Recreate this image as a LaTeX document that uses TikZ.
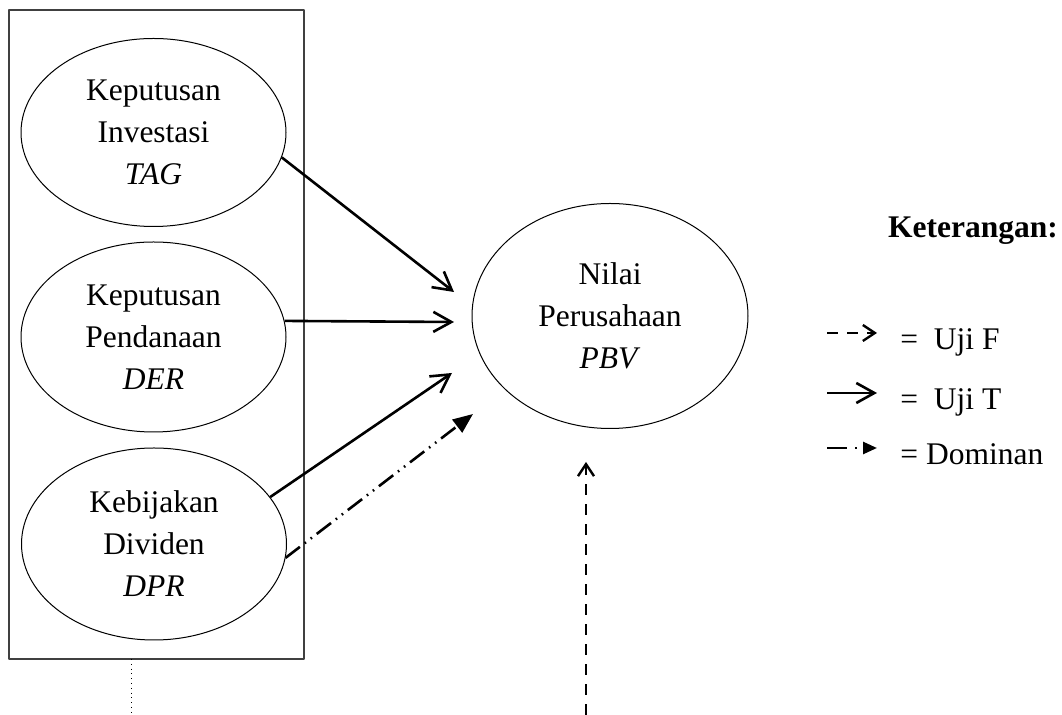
\documentclass[tikz,border=0pt]{standalone}
\usepackage{fontspec}
\setmainfont{Liberation Serif}
\usetikzlibrary{arrows.meta,shapes.geometric}
\begin{document}
\begin{tikzpicture}[x=0.5pt,y=-0.5pt,line join=round,font=\fontsize{15.75}{21}\selectfont,
	var/.style={draw,ellipse,line width=0.5pt,minimum width=132.5pt,minimum height=94pt,inner sep=0pt,align=center},
	uji/.style={line width=1.3pt,-{Straight Barb[length=9pt,width=10pt]}},
	ujif/.style={line width=1.2pt,dash pattern=on 5.5pt off 4.5pt,-{Straight Barb[length=6pt,width=8pt]}},
	dom/.style={line width=1.3pt,dash pattern=on 9pt off 3pt on 0.8pt off 3pt on 0.8pt off 3pt,-{Triangle[length=10pt,width=8pt]}},
	domk/.style={dom,dash pattern=on 10pt off 4pt on 1pt off 3pt,-{Triangle[length=7pt,width=6pt]}}]
				\useasboundingbox (0,0) rectangle (1062,715);
				\draw[draw=black!75,line width=0.7pt] (9,10) rectangle (304,659);
				\node[var] (tag) at (153.5,132.5) {Keputusan\\Investasi\\\textit{TAG}};
				\node[var,minimum height=95pt] (der) at (153.5,337) {Keputusan\\Pendanaan\\\textit{DER}};
				\node[var,minimum height=96pt] (dpr) at (154,544) {Kebijakan\\Dividen\\\textit{DPR}};
				\node[var,minimum width=138pt,minimum height=112.5pt] (pbv) at (610,316) {Nilai\\Perusahaan\\\textit{PBV}};
				\foreach \n/\x/\y in {1/454/292,2/454/322,3/452/373,4/473/414}{
					\coordinate (p\n) at (\x,\y);
				}
				\draw[uji] (tag.-11) -- (p1);
				\draw[uji] (der.7) -- (p2);
				\draw[uji] (dpr.22) -- (p3);
				\draw[dom] (dpr.-6) -- (p4);
				\coordinate (fbot) at (586,715);
				\coordinate (ftop) at (586,462);
				\draw[ujif] (fbot) -- (ftop);
				\coordinate (ktop) at (131,659);
				\coordinate (kbot) at (131,715);
				\draw[dotted,line width=0.4pt] (ktop) -- (kbot);
				\node[font=\fontsize{15.75}{21}\selectfont\bfseries,anchor=base] (ket) at (973,238) {Keterangan:};
				\foreach \s/\t/\y/\n in {ujif/{=\ \ Uji F}/333/f,uji/{=\ \ Uji T}/393/t,domk/{= Dominan}/448/d}{
					\coordinate (a\n) at (827,\y);
					\coordinate (b\n) at (877,\y);
					\draw[\s] (a\n) -- (b\n);
					\node[anchor=base west,inner sep=0pt] (l\n) at (900,\y+17) {\t};
				}
			\end{tikzpicture}
\end{document}
